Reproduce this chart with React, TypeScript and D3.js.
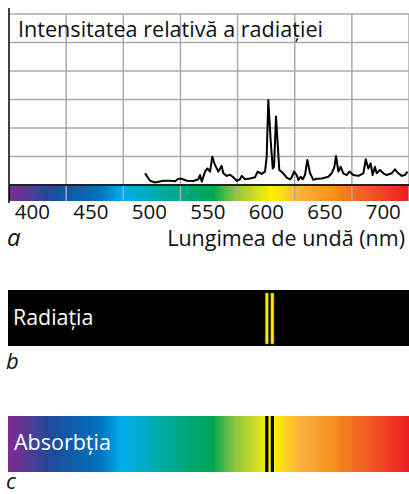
import React from "react";
import * as d3 from "d3";

// Emission spectrum trace (wavelength nm, relative intensity in grid units)
const wavelengths = [
  496.3, 500.6, 504.8, 511.9, 517.7, 521.9, 524.8, 527.6, 531.9, 537.6, 541.9, 543.3, 544.8,
  547.6, 549.6, 551.9, 553.8, 556.1, 559.0, 561.8, 563.2, 566.1, 569.0, 571.8, 574.7, 577.5,
  579.0, 581.8, 586.1, 590.3, 592.6, 596.0, 598.9, 600.3, 601.7, 603.7, 605.5, 606.6, 608.3,
  609.7, 611.1, 614.5, 617.4, 620.3, 621.7, 623.7, 626.0, 627.4, 629.4, 631.1, 633.1, 635.1,
  637.4, 640.2, 643.1, 647.4, 653.0, 655.9, 658.2, 659.6, 661.6, 663.6, 665.8, 668.7, 671.0,
  674.4, 678.7, 683.0, 685.0, 687.2, 689.2, 690.9, 692.9, 694.4, 697.2, 700.0, 702.9, 707.2,
  710.0, 712.9, 715.8, 718.6, 720.6,
];
const intensities = [
  0.41, 0.15, 0.09, 0.15, 0.15, 0.13, 0.22, 0.22, 0.15, 0.14, 0.2, 0.35, 0.12,
  0.47, 0.58, 0.47, 0.99, 0.7, 0.47, 0.67, 0.41, 0.32, 0.36, 0.27, 0.15, 0.2,
  0.32, 0.2, 0.23, 0.27, 0.47, 0.39, 0.47, 0.99, 2.98, 1.58, 0.58, 0.64, 2.4,
  1.46, 0.53, 0.41, 0.26, 0.2, 0.27, 0.47, 0.35, 0.18, 0.29, 0.2, 0.35, 0.88,
  0.41, 0.18, 0.22, 0.23, 0.29, 0.41, 0.64, 1.02, 0.47, 0.64, 0.41, 0.35, 0.47,
  0.35, 0.32, 0.41, 0.9, 0.58, 0.76, 0.35, 0.64, 0.41, 0.53, 0.41, 0.35, 0.41,
  0.55, 0.41, 0.32, 0.35, 0.47,
];

const tickValues = [400, 450, 500, 550, 600, 650, 700];
const gridLevels = [0, 1, 2, 3, 4, 5, 6];

// Spectrum colour stops (wavelength nm -> colour)
const stopWavelengths = [380, 416.8, 457.8, 476.6, 513.4, 554.4, 573.2, 592.9, 604.9, 628.8, 654.5, 680.1, 722];
const stopColors = [
  "#7f2b8f", "#1c4c9c", "#0072bc", "#00aeef", "#00a99d", "#00a651", "#8dc63f",
  "#d7df23", "#fff200", "#fbb040", "#f7941d", "#f26522", "#ed1c24",
];

// Emission / absorption lines (nm)
const lineWavelengths = [600.4, 605.2];

const titleText = "Intensitatea relativă a radiației";
const axisTitle = "Lungimea de undă (nm)";
const labelA = "a";
const labelB = "b";
const labelC = "c";
const emissionLabel = "Radiația";
const absorptionLabel = "Absorbția";

const W = 409;
const H = 494;
const FONT = "'Open Sans', 'Noto Sans', sans-serif";

export default function App() {
  const x = d3.scaleLinear().domain([380, 722]).range([9, 409]);
  const y = d3.scaleLinear().domain([0, 6]).range([185, 14]);
  const [x0, x1] = x.range();
  const gridX = d3.range(8).map((i) => x0 + (i * (x1 - x0)) / 7);

  const data = wavelengths.map((w, i) => [w, intensities[i]] as [number, number]);
  const line = d3
    .line<[number, number]>()
    .x((d) => x(d[0]))
    .y((d) => y(d[1]));

  const stops = stopWavelengths.map((w, i) => ({
    offset: ((x(w) - x0) / (x1 - x0)) * 100,
    color: stopColors[i],
  }));

  const barTop = 186;
  const barBottom = 201;
  const bBandTop = 290;
  const bBandBottom = 346;
  const cBandTop = 416;
  const cBandBottom = 472;

  return (
    <div style={{ position: "absolute", left: 0, top: 0 }}>
      <svg width={W} height={H} style={{ display: "block" }}>
        <defs>
          <linearGradient id="spec" x1={x0} x2={x1} y1={0} y2={0} gradientUnits="userSpaceOnUse">
            {stops.map((s, i) => (
              <stop key={i} offset={`${s.offset}%`} stopColor={s.color} />
            ))}
          </linearGradient>
        </defs>
        <rect x={0} y={0} width={W} height={H} fill="#fff" />

        {/* chart a: spectrum bar */}
        <rect x={x0} y={barTop} width={x1 - x0} height={barBottom - barTop} fill="url(#spec)" />

        {/* grid */}
        {gridLevels.slice(1).map((g) => (
          <line key={"h" + g} x1={x0} x2={x1} y1={y(g)} y2={y(g)} stroke="#aaaaaa" strokeWidth={1.5} />
        ))}
        {gridX.slice(1).map((gx, i) => (
          <line key={"v" + i} x1={gx} x2={gx} y1={y(6)} y2={barBottom} stroke="#aaaaaa" strokeWidth={1.5} />
        ))}

        {/* axes */}
        <line x1={x0} x2={x0} y1={8} y2={203} stroke="#000" strokeWidth={1.5} />
        <line x1={x0} x2={x1} y1={y(0)} y2={y(0)} stroke="#222" strokeWidth={2} />

        {/* spectrum trace */}
        <path d={line(data) || ""} fill="none" stroke="#000" strokeWidth={2} strokeLinejoin="round" />

        <text x={18} y={37} fontFamily={FONT} fontSize={21.6} fill="#111">
          {titleText}
        </text>

        {tickValues.map((t) => (
          <text key={t} x={x(t)} y={219} textAnchor="middle" fontFamily={FONT} fontSize={20.5} fill="#111">
            {t}
          </text>
        ))}
        <text x={405} y={246} textAnchor="end" fontFamily={FONT} fontSize={21.5} fill="#111">
          {axisTitle}
        </text>
        <text x={7} y={246} fontFamily={FONT} fontStyle="italic" fontSize={24} fill="#111">
          {labelA}
        </text>

        {/* b: emission */}
        <rect x={8} y={bBandTop} width={W - 8} height={bBandBottom - bBandTop} fill="#000" />
        {lineWavelengths.map((w, i) => (
          <rect
            key={"e" + i}
            x={x(w) - 1.6}
            y={bBandTop + 3}
            width={3.2}
            height={bBandBottom - bBandTop - 5}
            fill="#ffed00"
            stroke="#6b5d00"
            strokeWidth={0.6}
          />
        ))}
        <text x={13} y={325} fontFamily={FONT} fontSize={21.4} fill="#fff">
          {emissionLabel}
        </text>
        <text x={6} y={369} fontFamily={FONT} fontStyle="italic" fontSize={22} fill="#111">
          {labelB}
        </text>

        {/* c: absorption */}
        <rect x={8} y={cBandTop} width={W - 8} height={cBandBottom - cBandTop} fill="url(#spec)" />
        {lineWavelengths.map((w, i) => (
          <rect
            key={"a" + i}
            x={x(w) - 1.6}
            y={cBandTop}
            width={3.2}
            height={cBandBottom - cBandTop}
            fill="#000"
          />
        ))}
        <text x={14} y={450} fontFamily={FONT} fontSize={21.5} fill="#fff">
          {absorptionLabel}
        </text>
        <text x={6} y={489} fontFamily={FONT} fontStyle="italic" fontSize={22} fill="#111">
          {labelC}
        </text>
      </svg>
    </div>
  );
}
